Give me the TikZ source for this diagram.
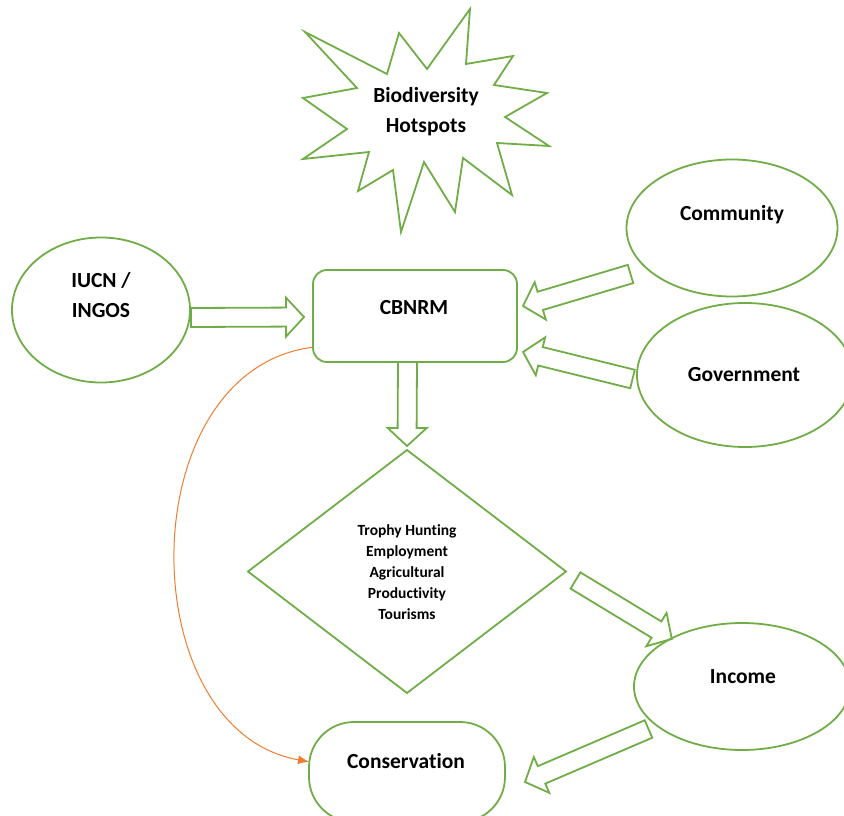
\documentclass[tikz,border=0pt]{standalone}
\usepackage{fontspec}
\setmainfont{Carlito}[Ligatures=NoCommon]
\usetikzlibrary{calc,arrows.meta,shapes.geometric}

\definecolor{leaf}{RGB}{112,173,71}
\definecolor{flame}{RGB}{237,125,49}

% hollow block arrow from #1 (tail centre) to #2 (tip)
\newcommand\hollowarrow[2]{%
  \draw[blockline] let \p1=(#1), \p2=(#2),
      \n1={atan2(\y2-\y1,\x2-\x1)}, \n2={veclen(\x2-\x1,\y2-\y1)} in
    ([shift={(\p1)},rotate=\n1]0pt,9.5pt)
    -- ([shift={(\p1)},rotate=\n1]\n2-18pt,9.5pt)
    -- ([shift={(\p1)},rotate=\n1]\n2-18pt,19.5pt)
    -- ([shift={(\p1)},rotate=\n1]\n2,0pt)
    -- ([shift={(\p1)},rotate=\n1]\n2-18pt,-19.5pt)
    -- ([shift={(\p1)},rotate=\n1]\n2-18pt,-9.5pt)
    -- ([shift={(\p1)},rotate=\n1]0pt,-9.5pt) -- cycle;}

\begin{document}
\begin{tikzpicture}[x=1pt,y=-1pt,
  shapeline/.style={draw=leaf,line width=1.8pt,outer sep=0pt,inner sep=0pt},
  blockline/.style={draw=leaf,line width=1.8pt},
  oval/.style={shapeline,ellipse},
  lbl/.style={font=\fontsize{21.5}{30}\selectfont\bfseries,align=center,inner sep=0pt},
  small/.style={font=\fontsize{15.5}{21}\selectfont\bfseries,align=center,inner sep=0pt},
  link/.style={draw=flame,line width=1pt,-{Latex[length=11pt,width=9pt]}}]

\useasboundingbox (0,0) rectangle (844,816);

% burst shape
\draw[blockline,line join=miter]
  (305,32) -- (387,74) -- (399,33) -- (427,69) -- (470,9) -- (466,64)
  -- (513,56) -- (494,85) -- (547,93) -- (505,117) -- (549,146) -- (497,143)
  -- (512,195) -- (463,158) -- (455,212) -- (424,162) -- (401,232) -- (393,170)
  -- (358,191) -- (369,152) -- (303,159) -- (347,129) -- (303,98) -- (357,88)
  -- cycle;
\node[lbl] (bio) at (426,112) {Biodiversity\\Hotspots};

% shapes
\node[oval,minimum width=178pt,minimum height=145pt] (iucn) at (101,310) {};
\node[lbl] (iucnt) at (101,295.5) {IUCN /\\INGOS};

\node[shapeline,rectangle,rounded corners=14pt,minimum width=204pt,minimum height=92pt] (cbnrm) at (415,316) {};
\node[lbl] (cbnrmt) at (414,308) {CBNRM};

\node[oval,minimum width=211pt,minimum height=137pt] (comm) at (732,228) {};
\node[lbl] (commt) at (732,215) {Community};

\node[oval,minimum width=216pt,minimum height=144pt] (gov) at (745,375) {};
\node[lbl] (govt) at (744,375) {Government};

\node[shapeline,diamond,minimum width=318pt,minimum height=243pt] (dia) at (407,571.5) {};
\node[small] (diat) at (407,572) {Trophy Hunting\\Employment\\Agricultural\\Productivity\\Tourisms};

\node[oval,minimum width=216pt,minimum height=127pt] (inc) at (742,686.5) {};
\node[lbl] (inct) at (743,677) {Income};

\node[shapeline,rectangle,rounded corners=45pt,minimum width=196pt,minimum height=100pt] (cons) at (407,772) {};
\node[lbl] (const) at (406,761) {Conservation};

% ends of the block arrows
\coordinate (a1s) at (191,317.5);  \coordinate (a1e) at (304,317);
\coordinate (a2s) at (407.5,362);  \coordinate (a2e) at (407,446);
\coordinate (a3s) at (630.5,274);  \coordinate (a3e) at (523,306);
\coordinate (a4s) at (632.5,379);  \coordinate (a4e) at (523,352);
\coordinate (a5s) at (575.5,580.5);\coordinate (a5e) at (672,639);
\coordinate (a6s) at (648.5,729);  \coordinate (a6e) at (525,782);

\hollowarrow{a1s}{a1e}
\hollowarrow{a2s}{a2e}
\hollowarrow{a3s}{a3e}
\hollowarrow{a4s}{a4e}
\hollowarrow{a5s}{a5e}
\hollowarrow{a6s}{a6e}

% direct link from CBNRM to Conservation
\draw[link] (cbnrm.197) .. controls (130,370) and (130,730) .. (cons.174);

\end{tikzpicture}
\end{document}
